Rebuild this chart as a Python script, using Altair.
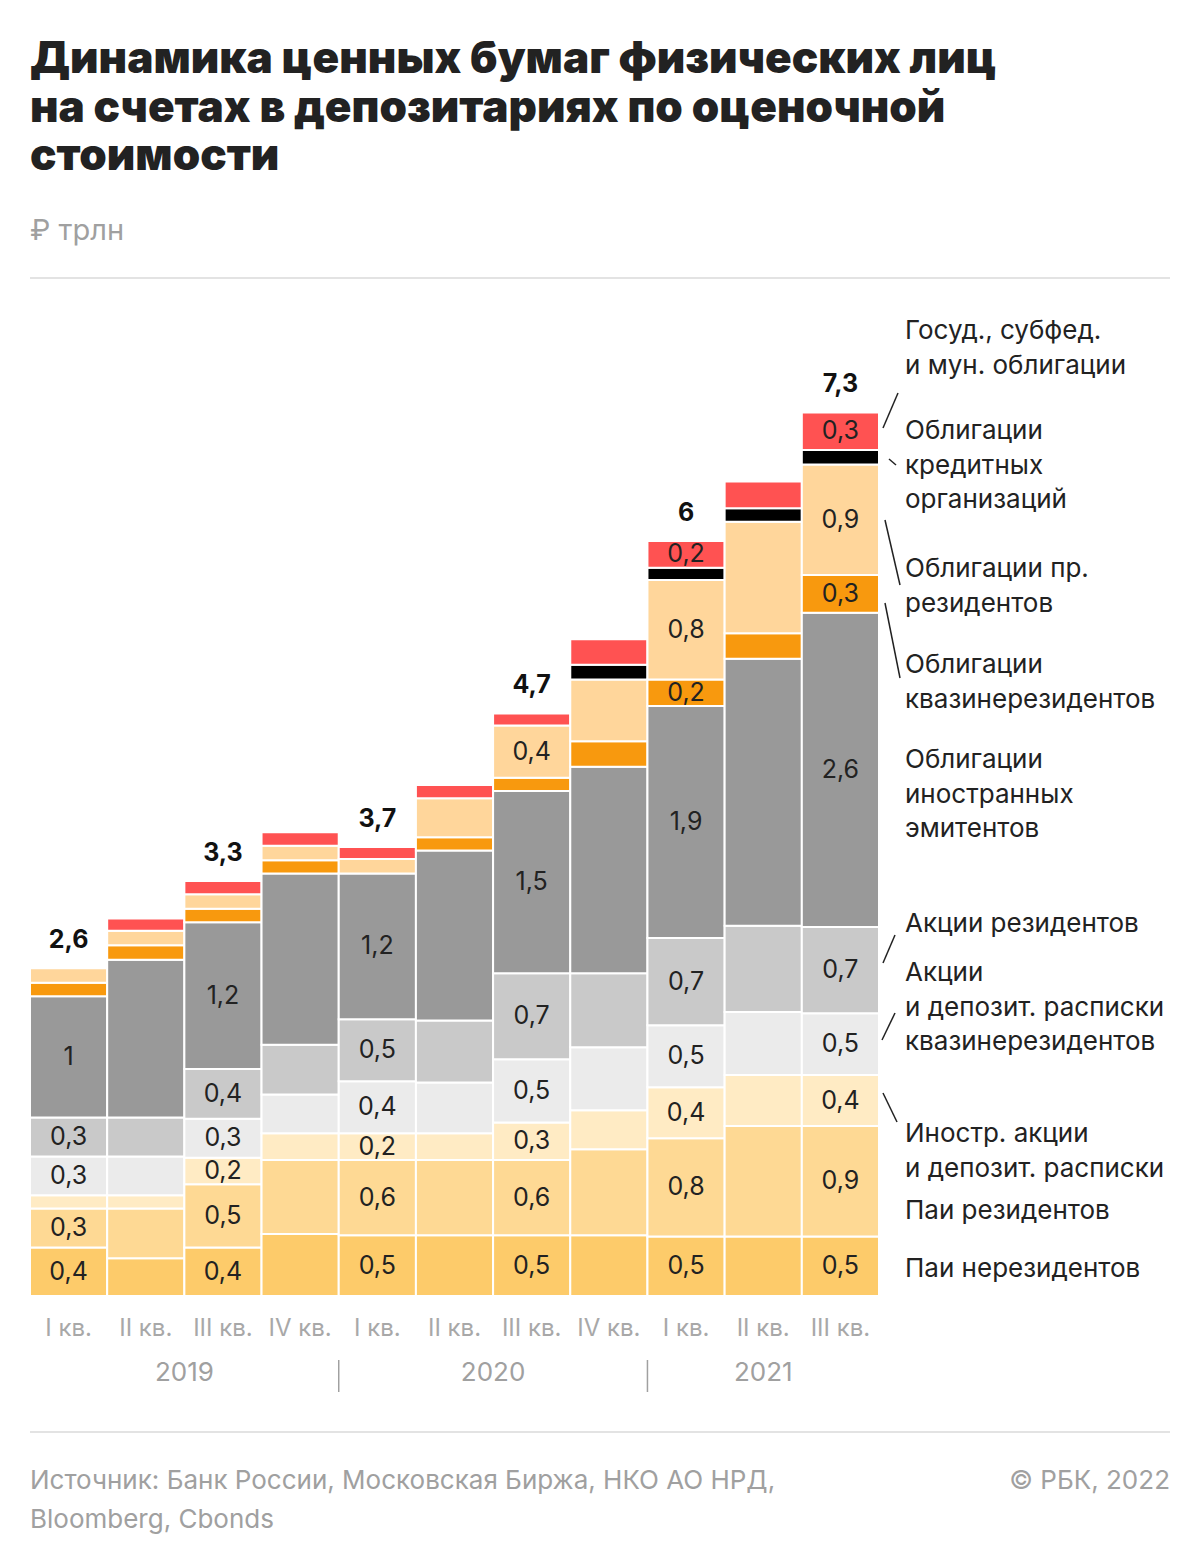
import altair as alt
import pandas as pd

# ---------------- data ----------------
quarters = ["I кв.", "II кв.", "III кв.", "IV кв.",
            "I кв.", "II кв.", "III кв.", "IV кв.",
            "I кв.", "II кв.", "III кв."]
years = ["2019"] * 4 + ["2020"] * 4 + ["2021"] * 3

series = [
    "Паи нерезидентов",
    "Паи резидентов",
    "Иностр. акции и депозит. расписки",
    "Акции и депозит. расписки квазинерезидентов",
    "Акции резидентов",
    "Облигации иностранных эмитентов",
    "Облигации квазинерезидентов",
    "Облигации пр. резидентов",
    "Облигации кредитных организаций",
    "Госуд., субфед. и мун. облигации",
]

pai_nonres      = [0.40, 0.31, 0.40, 0.51, 0.50, 0.50, 0.50, 0.50, 0.49, 0.49, 0.49]
pai_res         = [0.32, 0.41, 0.52, 0.61, 0.62, 0.62, 0.62, 0.71, 0.81, 0.91, 0.91]
foreign_shares  = [0.11, 0.11, 0.22, 0.22, 0.22, 0.22, 0.31, 0.32, 0.42, 0.42, 0.42]
quasi_shares    = [0.32, 0.32, 0.32, 0.32, 0.43, 0.42, 0.52, 0.52, 0.51, 0.52, 0.51]
res_shares      = [0.32, 0.32, 0.41, 0.41, 0.51, 0.51, 0.71, 0.61, 0.72, 0.71, 0.71]
foreign_bonds   = [1.00, 1.30, 1.21, 1.41, 1.20, 1.40, 1.50, 1.70, 1.91, 2.20, 2.59]
quasi_bonds     = [0.11, 0.12, 0.11, 0.11, 0.00, 0.11, 0.11, 0.21, 0.22, 0.21, 0.31]
other_res_bonds = [0.12, 0.12, 0.12, 0.12, 0.12, 0.32, 0.43, 0.51, 0.82, 0.92, 0.91]
bank_bonds      = [0.00, 0.00, 0.00, 0.00, 0.00, 0.00, 0.00, 0.12, 0.10, 0.11, 0.12]
gov_bonds       = [0.00, 0.10, 0.11, 0.11, 0.10, 0.11, 0.10, 0.21, 0.22, 0.22, 0.31]

total_labels = ["2,6", "", "3,3", "", "3,7", "", "4,7", "", "6", "", "7,3"]

legend_texts = [
    "Паи нерезидентов",
    "Паи резидентов",
    "Иностр. акции\nи депозит. расписки",
    "Акции\nи депозит. расписки\nквазинерезидентов",
    "Акции резидентов",
    "Облигации\nиностранных\nэмитентов",
    "Облигации\nквазинерезидентов",
    "Облигации пр.\nрезидентов",
    "Облигации\nкредитных\nорганизаций",
    "Госуд., субфед.\nи мун. облигации",
]

# ---------------- styles ----------------
colors = ["#FDCB6A", "#FED994", "#FFEBC4", "#EBEBEB", "#C9C9C9",
          "#999999", "#F8990E", "#FFD69B", "#000000", "#FF5252"]
FONT = "Inter"
W, H = 849, 971
PAD_L, PAD_T = 30, 325

all_values = [pai_nonres, pai_res, foreign_shares, quasi_shares, res_shares,
              foreign_bonds, quasi_bonds, other_res_bonds, bank_bonds, gov_bonds]


def fmt(v):
    s = f"{v:.1f}"
    if s.endswith(".0"):
        s = s[:-2]
    return s.replace(".", ",")


rows = []
totals = []
for i in range(len(quarters)):
    cum = 0.0
    for k, name in enumerate(series):
        v = all_values[k][i]
        if v > 0:
            lab = fmt(v) if (total_labels[i] and v >= 0.15) else ""
            rows.append(dict(i=i, x0=i - 0.5, x1=i + 0.5, y0=cum, y1=cum + v,
                             mid=cum + v / 2, series=name, label=lab))
        cum += v
    totals.append(dict(i=i, total=cum, label=total_labels[i], q=quarters[i], year=years[i]))

df = pd.DataFrame(rows)
tdf = pd.DataFrame(totals)

xs = alt.Scale(domain=[-0.5, len(quarters) - 0.5], nice=False, zero=False)
ys = alt.Scale(domain=[0, 8], nice=False)

bars = alt.Chart(df).mark_rect(stroke="white", strokeWidth=2).encode(
    x=alt.X("x0:Q", scale=xs, axis=None),
    x2="x1:Q",
    y=alt.Y("y0:Q", scale=ys, axis=None),
    y2="y1:Q",
    color=alt.Color("series:N", scale=alt.Scale(domain=series, range=colors), legend=None),
)

seg_labels = alt.Chart(df[df["label"] != ""]).mark_text(
    font=FONT, fontSize=25, color="#222222", baseline="middle", align="center"
).encode(
    x=alt.X("i:Q", scale=xs, axis=None),
    y=alt.Y("mid:Q", scale=ys, axis=None),
    text="label:N",
)

tot_labels = alt.Chart(tdf[tdf["label"] != ""]).mark_text(
    font=FONT, fontSize=25, fontWeight="bold", color="#111111",
    baseline="alphabetic", align="center", dy=-20
).encode(
    x=alt.X("i:Q", scale=xs, axis=None),
    y=alt.Y("total:Q", scale=ys, axis=None),
    text="label:N",
)

q_labels = alt.Chart(tdf).mark_text(
    font=FONT, fontSize=24, color="#A8A8A8", baseline="alphabetic", align="center"
).encode(
    x=alt.X("i:Q", scale=xs, axis=None),
    y=alt.value(1336 - PAD_T),
    text="q:N",
)

ydf = tdf.groupby("year").agg(center=("i", "mean"), first=("i", "min"), last=("i", "max")).reset_index()
y_labels = alt.Chart(ydf).mark_text(
    font=FONT, fontSize=26, color="#A0A0A0", baseline="alphabetic", align="center"
).encode(
    x=alt.X("center:Q", scale=xs, axis=None),
    y=alt.value(1381 - PAD_T),
    text="year:N",
)

sep_df = pd.DataFrame({"sx": [(ydf["last"][k] + ydf["first"][k + 1]) / 2 for k in range(len(ydf) - 1)]})
seps = alt.Chart(sep_df).mark_rule(color="#A0A0A0", strokeWidth=1.5).encode(
    x=alt.X("sx:Q", scale=xs, axis=None),
    y=alt.value(1360 - PAD_T),
    y2=alt.value(1392 - PAD_T),
)

# ---------------- annotations (pixel layout) ----------------
def ptext(t, x, y, size, color, weight="normal", align="left", lh=None):
    kw = dict(font=FONT, fontSize=size, color=color, fontWeight=weight,
              align=align, baseline="alphabetic", lineBreak="\n")
    if lh:
        kw["lineHeight"] = lh
    return alt.Chart(pd.DataFrame({"t": [t]})).mark_text(**kw).encode(
        text="t:N", x=alt.value(x - PAD_L), y=alt.value(y - PAD_T)
    )


title = ptext("Динамика ценных бумаг физических лиц\nна счетах в депозитариях по оценочной\nстоимости",
              30, 73, 44, "#222222", weight=900, lh=48.5)
subtitle = ptext("₽ трлн", 30, 240, 29, "#A0A0A0")
foot1 = ptext("Источник: Банк России, Московская Биржа, НКО АО НРД,\nBloomberg, Cbonds",
              30, 1489, 26, "#A0A0A0", lh=39)
foot2 = ptext("© РБК, 2022", 1170, 1489, 26, "#A0A0A0", align="right")

hr_df = pd.DataFrame({"y": [278 - PAD_T, 1432 - PAD_T]})
hrules = alt.Chart(hr_df).mark_rule(color="#E3E3E3", strokeWidth=2).encode(
    x=alt.value(0), x2=alt.value(1170 - PAD_L), y=alt.Y("y:Q", scale=None, axis=None)
)

legend_y = [1277, 1219, 1142, 981, 932, 768, 673, 577, 439, 339]
leg_layers = [ptext(t, 905, yy, 26, "#222222", lh=34.5) for t, yy in zip(legend_texts, legend_y)]

lead_df = pd.DataFrame({
    "ax": [898, 889, 885, 885, 895, 895, 883],
    "ay": [393, 459, 520, 603, 935, 1013, 1093],
    "bx": [883, 896, 900, 900, 883, 882, 897],
    "by": [428, 465, 585, 678, 963, 1040, 1122],
})
lead_df[["ax", "bx"]] -= PAD_L
lead_df[["ay", "by"]] -= PAD_T
leaders = alt.Chart(lead_df).mark_rule(color="#222222", strokeWidth=1.5).encode(
    x=alt.X("ax:Q", scale=None, axis=None), y=alt.Y("ay:Q", scale=None, axis=None),
    x2="bx:Q", y2="by:Q",
)

chart = alt.layer(
    bars, seg_labels, tot_labels, q_labels, y_labels, seps,
    title, subtitle, foot1, foot2, hrules, leaders, *leg_layers
).properties(
    width=W, height=H,
    padding={"left": PAD_L, "top": PAD_T, "right": 1200 - PAD_L - W, "bottom": 1567 - PAD_T - H},
    autosize=alt.AutoSizeParams(type="none"),
    background="white",
).configure_view(strokeWidth=0)

chart.save("out.html", embed_options={"renderer": "svg", "actions": False})
